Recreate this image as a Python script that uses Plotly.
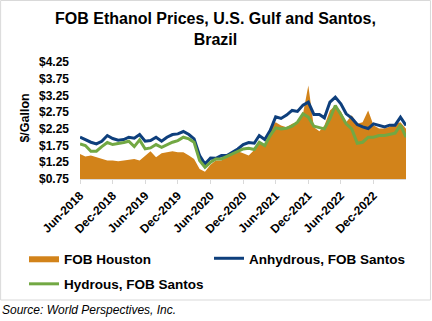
import plotly.graph_objects as go
import pandas as pd

dates = pd.date_range("2018-06-01", "2023-06-01", freq="MS").strftime("%Y-%m-%d").tolist()

fob_houston = [1.50, 1.42, 1.45, 1.40, 1.33, 1.30, 1.30, 1.28, 1.30, 1.32,
               1.35, 1.30, 1.45, 1.58, 1.40, 1.52, 1.55, 1.58, 1.55, 1.55,
               1.45, 1.35, 1.05, 0.97, 1.18, 1.30, 1.30, 1.42, 1.50, 1.58,
               1.52, 1.45, 1.62, 1.88, 1.75, 2.30, 2.45, 2.35, 2.30, 2.40,
               2.45, 2.70, 3.55, 2.30, 2.18, 2.35, 2.80, 2.95, 2.78, 2.45,
               2.66, 2.40, 2.45, 2.80, 2.36, 2.26, 2.26, 2.31, 2.40, 2.45, 2.25]

anhydrous_santos = [2.00, 1.92, 1.85, 1.80, 1.88, 2.05, 1.96, 1.91, 1.93, 2.00,
                    1.97, 2.08, 1.88, 1.90, 2.00, 1.88, 2.00, 2.08, 2.10, 2.17,
                    2.08, 1.95, 1.45, 1.20, 1.38, 1.37, 1.45, 1.45, 1.55, 1.65,
                    1.78, 1.84, 1.82, 2.05, 1.93, 2.20, 2.61, 2.56, 2.66, 2.80,
                    2.77, 2.96, 3.05, 2.68, 2.68, 2.58, 3.05, 3.20, 3.00, 2.70,
                    2.57, 2.38, 2.31, 2.26, 2.40, 2.36, 2.31, 2.36, 2.36, 2.60, 2.35]

hydrous_santos = [1.80, 1.75, 1.58, 1.58, 1.72, 1.84, 1.78, 1.80, 1.84, 1.88,
                  1.72, 1.92, 1.65, 1.68, 1.78, 1.70, 1.78, 1.85, 1.90, 2.00,
                  1.95, 1.85, 1.30, 1.10, 1.25, 1.35, 1.35, 1.43, 1.50, 1.57,
                  1.65, 1.67, 1.63, 1.85, 1.75, 2.05, 2.28, 2.25, 2.27, 2.33,
                  2.45, 2.70, 2.60, 2.33, 2.28, 2.25, 2.56, 2.95, 2.68, 2.40,
                  2.25, 1.82, 1.85, 2.00, 2.00, 2.05, 2.05, 2.08, 2.12, 2.36, 2.00]

y_ticks = [0.75, 1.25, 1.75, 2.25, 2.75, 3.25, 3.75, 4.25]
x_ticks = ["2018-06-01", "2018-12-01", "2019-06-01", "2019-12-01", "2020-06-01",
           "2020-12-01", "2021-06-01", "2021-12-01", "2022-06-01", "2022-12-01"]
x_tick_labels = ["Jun-2018", "Dec-2018", "Jun-2019", "Dec-2019", "Jun-2020",
                 "Dec-2020", "Jun-2021", "Dec-2021", "Jun-2022", "Dec-2022"]

ORANGE = "#D2831A"
BLUE = "#0E3F7C"
GREEN = "#72A843"
FONT = "Liberation Sans, Arial, sans-serif"

W, H = 432, 321
L, R, T, B = 80, 25.5, 62, 142
pw, ph = W - L - R, H - T - B


def px(x):
    return (x - L) / pw


def py(y):
    return (H - B - y) / ph


fig = go.Figure()
fig.add_trace(go.Scatter(x=dates, y=fob_houston, name="FOB Houston", mode="lines",
                         line=dict(color=ORANGE, width=0), fill="tozeroy",
                         fillcolor=ORANGE, legend="legend", legendgroup="a"))
fig.add_trace(go.Scatter(x=dates, y=anhydrous_santos, name="Anhydrous, FOB Santos",
                         mode="lines", line=dict(color=BLUE, width=3),
                         legend="legend2"))
fig.add_trace(go.Scatter(x=dates, y=hydrous_santos, name="Hydrous, FOB Santos",
                         mode="lines", line=dict(color=GREEN, width=3),
                         legend="legend", legendgroup="b"))

legend_font = dict(size=13.5, family=FONT, weight="bold")

fig.update_layout(
    width=W, height=H,
    margin=dict(l=L, r=R, t=T, b=B, autoexpand=False),
    paper_bgcolor="white", plot_bgcolor="white",
    font=dict(family=FONT, color="black"),
    showlegend=True,
    legend=dict(orientation="v", xref="container", yref="container",
                x=24 / W, xanchor="left", y=1 - 243 / H, yanchor="top",
                font=legend_font, tracegroupgap=5, itemwidth=30,
                bgcolor="rgba(0,0,0,0)"),
    legend2=dict(orientation="v", xref="container", yref="container",
                 x=209 / W, xanchor="left", y=1 - 243 / H, yanchor="top",
                 font=legend_font, itemwidth=30, bgcolor="rgba(0,0,0,0)"),
    xaxis=dict(type="date", range=["2018-06-01", "2023-06-01"],
               tickvals=x_ticks, ticktext=x_tick_labels,
               tickangle=-45, showgrid=False, showline=True, linecolor="#d9d9d9",
               linewidth=1, ticks="outside", ticklen=4, tickcolor="#d9d9d9",
               tickfont=dict(size=12, family=FONT, weight="bold"), zeroline=False,
               automargin=False),
    yaxis=dict(range=[0.75, 4.25], tickvals=y_ticks, tickformat="$.2f",
               showgrid=False, showline=False, zeroline=False, ticks="",
               ticklabelstandoff=10, automargin=False,
               tickfont=dict(size=12, family=FONT, weight="bold")),
    shapes=[dict(type="rect", xref="paper", yref="paper",
                 x0=px(0.5), x1=px(431), y0=py(300), y1=py(0.5),
                 line=dict(color="#d9d9d9", width=1), fillcolor="rgba(0,0,0,0)",
                 layer="below")],
    annotations=[
        dict(text="<b>FOB Ethanol Prices, U.S. Gulf and Santos,<br>Brazil</b>",
             xref="paper", yref="paper", x=px(216), y=py(29), xanchor="center",
             yanchor="middle", showarrow=False, align="center",
             font=dict(size=16, family=FONT)),
        dict(text="<b>$/Gallon</b>", xref="paper", yref="paper",
             x=px(24), y=py(118.5), xanchor="center", yanchor="middle",
             textangle=-90, showarrow=False, font=dict(size=12.5, family=FONT)),
        dict(text="<i>Source: World Perspectives, Inc.</i>", xref="paper",
             yref="paper", x=px(0), y=py(310), xanchor="left",
             yanchor="middle", showarrow=False,
             font=dict(size=12, family=FONT)),
    ],
)

fig.write_html("out.html")
